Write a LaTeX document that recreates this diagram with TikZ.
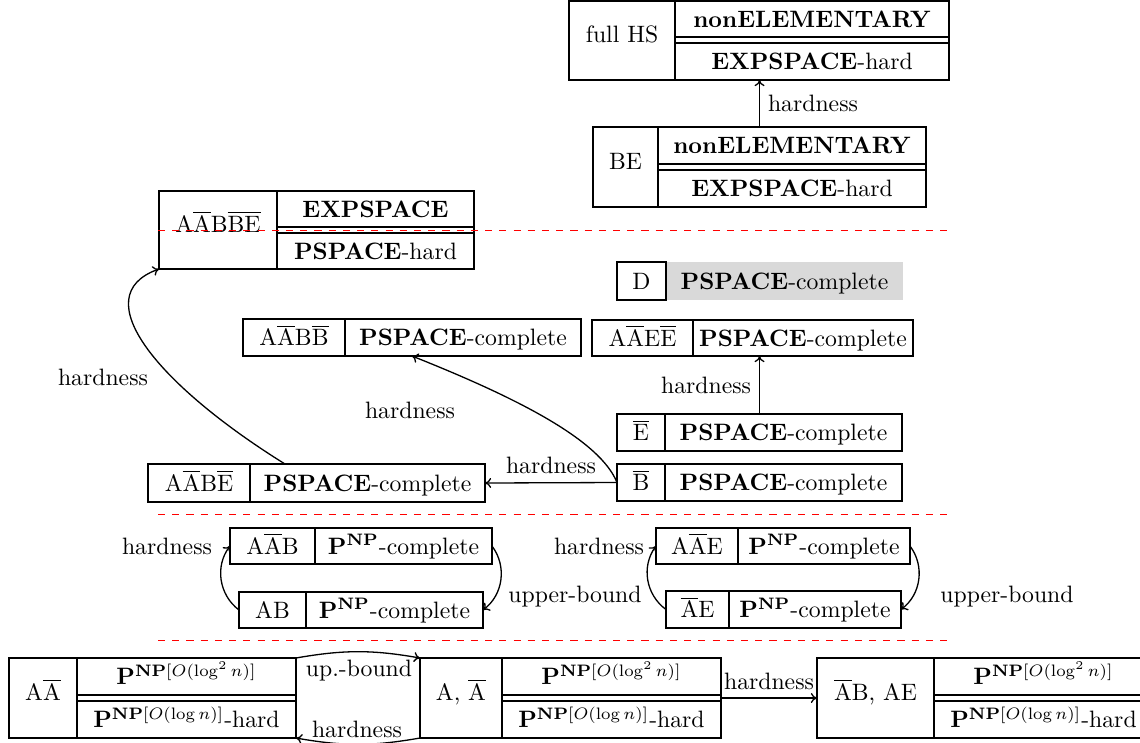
\documentclass[tikz,border=0pt]{standalone}
\usetikzlibrary{arrows.meta}
\tikzset{
  x=0.42194pt, y=-0.42194pt,
  sz/.style 2 args={minimum width={#1*0.42194pt}, minimum height={#2*0.42194pt}},
  frame/.style={draw, line width=0.45pt, inner sep=0pt, outer sep=0pt, anchor=north west},
  cell/.style={draw, line width=0.45pt, inner sep=0pt, outer sep=0pt, anchor=north west, text height=7pt, text depth=0pt},
  plain/.style={inner sep=0pt, outer sep=0pt, anchor=north west, text height=7pt, text depth=0pt},
  sub/.style={cell, line width=0.8pt},
  tall/.style={cell, text depth=5pt},
  shade/.style={plain, fill=gray!30},
  conn/.style={-{To[length=2.6pt, width=4.2pt]}, line width=0.55pt},
  sepline/.style={draw=red, dashed, line width=0.5pt},
}
\newcommand{\PS}{\textbf{PSPACE}}
\newcommand{\PNP}{$\mathbf{P}^{\mathbf{NP}}$}
\begin{document}
\begin{tikzpicture}
\useasboundingbox (0,0) rectangle (1140,742);
% full HS
\node[frame, sz={380}{79}] (fullhs) at (569,1) {};
\node[tall, sz={106}{79}] (fullhsl) at (569,1) {full HS};
\node[sub, sz={274}{36}] (fullhsu) at (675,1) {\textbf{nonELEMENTARY}};
\node[sub, sz={274}{37}] (fullhsd) at (675,43) {\textbf{EXPSPACE}-hard};
% BE
\node[frame, sz={333}{80}] (be) at (593,127) {};
\node[tall, sz={65}{80}] (bel) at (593,127) {BE};
\node[sub, sz={268}{37}] (beu) at (658,127) {\textbf{nonELEMENTARY}};
\node[sub, sz={268}{37}] (bed) at (658,170) {\textbf{EXPSPACE}-hard};
% AAbar B BEbar
\node[frame, sz={315}{78}] (aabbbe) at (159,191) {};
\node[tall, sz={118}{78}] (aabbbel) at (159,191) {$\mathrm{A\overline{A}B\overline{BE}}$};
\node[sub, sz={197}{36}] (aabbbeu) at (277,191) {\textbf{EXPSPACE}};
\node[sub, sz={197}{36}] (aabbbed) at (277,233) {\PS-hard};
% D
\node[shade, sz={237}{38}] (dr) at (666,262) {\PS-complete};
\node[cell, sz={49}{38}] (dl) at (617,262) {D};
% AAbar B Bbar
\node[frame, sz={338}{37}] (aabb) at (243,319) {};
\node[cell, sz={102}{37}] (aabbl) at (243,319) {$\mathrm{A\overline{A}B\overline{B}}$};
\node[plain, sz={236}{37}] (aabbr) at (345,319) {\PS-complete};
% AAbar E Ebar
\node[frame, sz={321}{36}] (aaee) at (592,320) {};
\node[cell, sz={101}{36}] (aaeel) at (592,320) {$\mathrm{A\overline{A}E\overline{E}}$};
\node[plain, sz={220}{36}] (aaeer) at (693,320) {\PS-complete};
% Ebar
\node[frame, sz={285}{37}] (ebar) at (617,414) {};
\node[cell, sz={48}{37}] (ebarl) at (617,414) {$\overline{\mathrm{E}}$};
\node[plain, sz={237}{37}] (ebarr) at (665,414) {\PS-complete};
% Bbar
\node[frame, sz={285}{37}] (bbar) at (617,464) {};
\node[cell, sz={48}{37}] (bbarl) at (617,464) {$\overline{\mathrm{B}}$};
\node[plain, sz={237}{37}] (bbarr) at (665,464) {\PS-complete};
% AAbar B Ebar
\node[frame, sz={337}{38}] (aabe) at (148,464) {};
\node[cell, sz={102}{38}] (aabel) at (148,464) {$\mathrm{A\overline{A}B\overline{E}}$};
\node[plain, sz={235}{38}] (aaber) at (250,464) {\PS-complete};
% AAbar B
\node[frame, sz={262}{36}] (aab) at (230,528) {};
\node[cell, sz={85}{36}] (aabl) at (230,528) {$\mathrm{A\overline{A}B}$};
\node[plain, sz={177}{36}] (aabr) at (315,528) {\PNP-complete};
% AB
\node[frame, sz={244}{36}] (ab) at (239,592) {};
\node[cell, sz={67}{36}] (abl) at (239,592) {AB};
\node[plain, sz={177}{36}] (abr) at (306,592) {\PNP-complete};
% AAbar E
\node[frame, sz={254}{36}] (aae) at (656,528) {};
\node[cell, sz={82}{36}] (aael) at (656,528) {$\mathrm{A\overline{A}E}$};
\node[plain, sz={172}{36}] (aaer) at (738,528) {\PNP-complete};
% Abar E
\node[frame, sz={235}{37}] (ae) at (666,591) {};
\node[cell, sz={63}{37}] (ael) at (666,591) {$\overline{\mathrm{A}}$E};
\node[plain, sz={172}{37}] (aer) at (729,591) {\PNP-complete};
% bottom row
\node[frame, sz={287}{80}] (aa) at (9,658) {};
\node[tall, sz={68}{80}] (aal) at (9,658) {$\mathrm{A\overline{A}}$};
\node[sub, sz={219}{37}] (aau) at (77,658) {$\mathbf{P}^{\mathbf{NP}[O(\log^2 n)]}$};
\node[sub, sz={219}{37}] (aad) at (77,701) {$\mathbf{P}^{\mathbf{NP}[O(\log n)]}$-hard};
\node[frame, sz={301}{80}] (aabar) at (420,658) {};
\node[tall, sz={82}{80}] (aabarl) at (420,658) {A, $\overline{\mathrm{A}}$};
\node[sub, sz={219}{37}] (aabaru) at (502,658) {$\mathbf{P}^{\mathbf{NP}[O(\log^2 n)]}$};
\node[sub, sz={219}{37}] (aabard) at (502,701) {$\mathbf{P}^{\mathbf{NP}[O(\log n)]}$-hard};
\node[frame, sz={336}{80}] (abae) at (817,658) {};
\node[tall, sz={117}{80}] (abael) at (817,658) {$\overline{\mathrm{A}}$B, AE};
\node[sub, sz={219}{37}] (abaeu) at (934,658) {$\mathbf{P}^{\mathbf{NP}[O(\log^2 n)]}$};
\node[sub, sz={219}{37}] (abaed) at (934,701) {$\mathbf{P}^{\mathbf{NP}[O(\log n)]}$-hard};
% connectors
\draw[conn] (be.north) -- (be.north |- fullhs.south) node[midway, right] (h1) {hardness};
\draw[conn] (ebar.north) -- (ebar.north |- aaee.south) node[midway, left] (h2) {hardness};
\draw[conn] (bbar.west) -- (aabe.east) node[midway, above] (h3) {hardness};
\draw[conn] (bbar.west) .. controls +(-17,-42) and +(108,43) .. (aabb.south);
\node (h4) at (410,410) {hardness};
\draw[conn] ([xshift=-13.29pt]aabe.north) .. controls +(-127,-79) and +(-75,27) .. (aabbbe.south west);
\node (h5) at (103,377) {hardness};
\draw[conn] (ab.west) to[bend left=45] (aab.west);
\draw[conn] (aab.east) to[bend left=45] (ab.east);
\draw[conn] (ae.west) to[bend left=45] (aae.west);
\draw[conn] (aae.east) to[bend left=45] (ae.east);
\node (h6) at (167,546) {hardness};
\node (u1) at (575,597) {upper-bound};
\node (h7) at (599,546) {hardness};
\node (u2) at (1007,597) {upper-bound};
\draw[conn] (aa.north east) to[bend left=10] (aabar.north west);
\draw[conn] (aabar.south west) to[bend left=10] (aa.south east);
\node (u3) at (359,671) {up.-bound};
\node (h8) at (357,729) {hardness};
\draw[conn] (aabar.east) -- (abae.west) node[midway, above] (h9) {hardness};
% separators
\draw[sepline] (158,230.5) -- (948,230.5);
\draw[sepline] (158,514.5) -- (948,514.5);
\draw[sepline] (158,640.5) -- (948,640.5);
\end{tikzpicture}
\end{document}
